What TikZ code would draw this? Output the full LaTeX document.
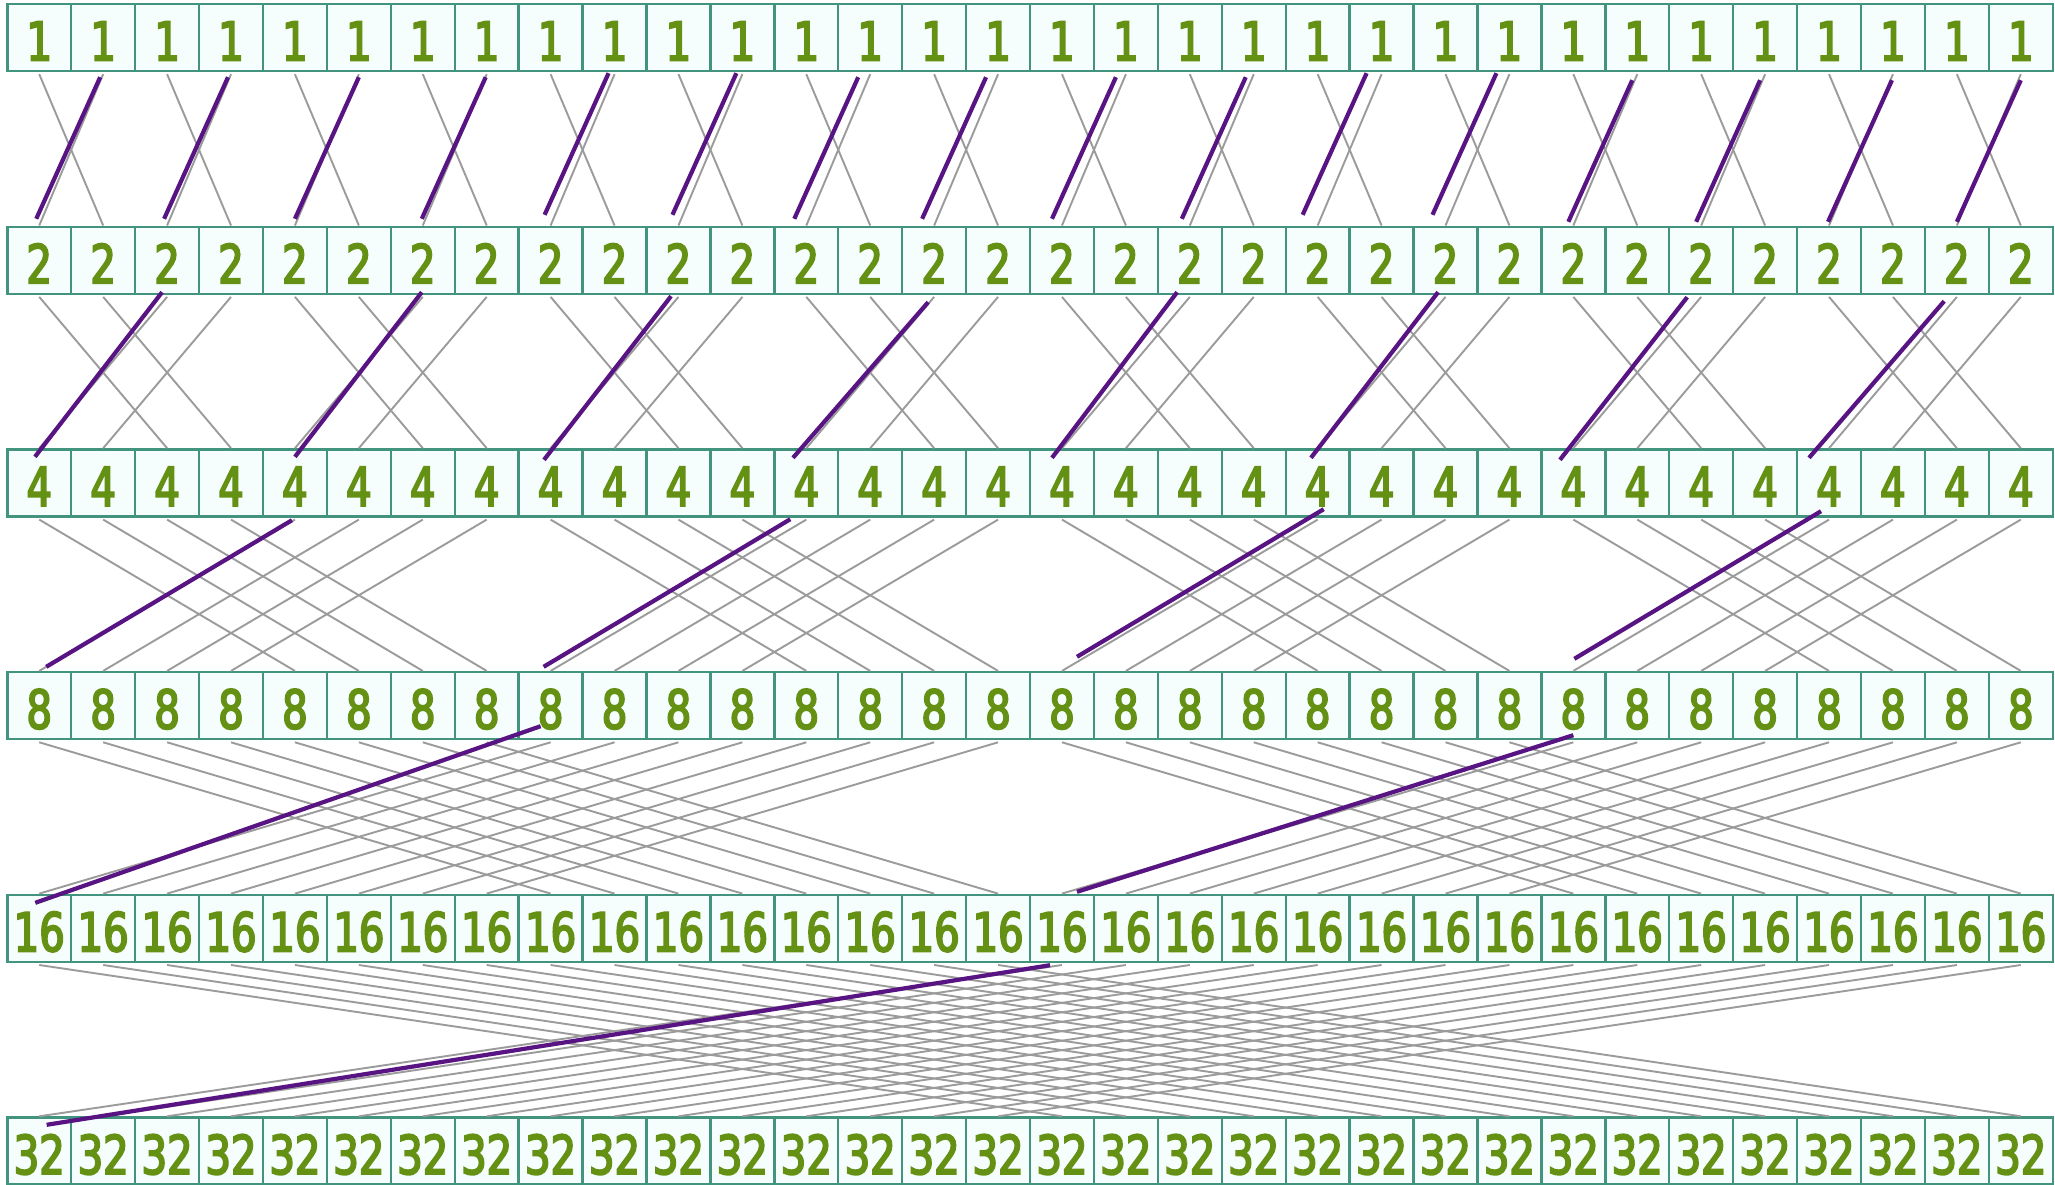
\documentclass[tikz,border=0pt]{standalone}
\usepackage{fontspec}
\newfontfamily\cellfont[FakeStretch=0.75,FakeBold=3.5]{DejaVu Sans}
\definecolor{cellgreen}{RGB}{100,145,20}
\definecolor{cellborder}{RGB}{66,148,126}
\definecolor{cellfill}{RGB}{246,253,253}
\definecolor{wiregray}{RGB}{155,155,155}
\definecolor{hotpurple}{RGB}{88,20,130}
\begin{document}
\begin{tikzpicture}[x=1pt,y=1pt,
  cell/.style={draw=cellborder, line width=2.4pt, fill=cellfill,
    minimum width=63.92pt, minimum height=67pt, inner sep=0pt,
    text=cellgreen, font=\cellfont\fontsize{53.5}{60}\selectfont,
    text height=46pt, text depth=0pt},
  wire/.style={draw=wiregray, line width=1.9pt},
  hot/.style={draw=hotpurple, line width=4.2pt}]
\fill[white] (0,0) rectangle (2055,-1185);
\useasboundingbox (0,0) rectangle (2055,-1185);
% cells
\foreach \r/\v in {0/1,1/2,2/4,3/8,4/16,5/32}{
  \foreach \i in {0,...,31}{
    \node[cell] (n\r-\i) at ({7.3+63.92*(\i+0.5)}, {-(37.5+222.7*\r)}) {\v};
  }
}
% gray butterfly wires
\foreach \r/\s in {0/1,1/2,2/4,3/8,4/16}{
  \pgfmathtruncatemacro\rn{\r+1}
  \foreach \i in {0,...,31}{
    \pgfmathtruncatemacro\j{mod(floor(\i/\s),2)==0 ? \i+\s : \i-\s}
    \draw[wire] ([yshift=-2pt]n\r-\i.south) -- (n\rn-\j.north);
  }
}
% purple highlighted wires
\foreach \ra/\ia/\sx/\sy/\rb/\ib/\ex/\ey in {
  0/1/-3/-5/1/0/-3/6.7, 0/3/-3/-5/1/2/-3/6.7, 0/5/0/-5/1/4/0/6.7, 0/7/-1/-5/1/6/-1/6.7,
  0/9/-6/-1/1/8/-6/10.7, 0/11/-6/-1/1/10/-6/10.7, 0/13/-12/-5/1/12/-12/6.7, 0/15/-12/-5/1/14/-12/6.7,
  0/17/-10/-5/1/16/-10/6.7, 0/19/-8/-5/1/18/-8/6.7, 0/21/-15/-1/1/20/-15/10.7, 0/23/-13/-1/1/22/-13/10.7,
  0/25/-5/-8/1/24/-5/3.7, 0/27/-5/-8/1/26/-5/3.7, 0/29/-1/-8/1/28/-1/3.7, 0/31/0/-8/1/30/0/3.7,
  1/2/-5/2.7/2/0/-4.3/-8.6, 1/6/-1/2.7/2/4/0/-8.6, 1/10/-7.4/-1.3/2/8/-6.6/-11.6, 1/14/-6/-7.3/2/12/-13.3/-9.6,
  1/18/-12.7/2.7/2/16/-10/-9.6, 1/22/-7.4/2.7/2/20/-6.7/-9.6, 1/26/-14/-2.3/2/24/-13.4/-11.6, 1/30/-12.7/-6.3/2/28/-20/-9.6,
  2/4/-3/-2.6/3/0/7/4.1, 2/12/-16/-1.6/3/8/-7/4.1, 2/20/6/8.4/3/16/15/14.1, 2/28/-8/6.4/3/24/1/12.1,
  3/8/-10/14.1/4/0/-4/-9.2, 3/24/0/5.1/4/16/15/1.8,
  4/16/-12/-2.2/5/0/7.4/-8.5}{
  \draw[hot] ([xshift=\sx pt,yshift=\sy pt]n\ra-\ia.south) -- ([xshift=\ex pt,yshift=\ey pt]n\rb-\ib.north);
}
\end{tikzpicture}
\end{document}
